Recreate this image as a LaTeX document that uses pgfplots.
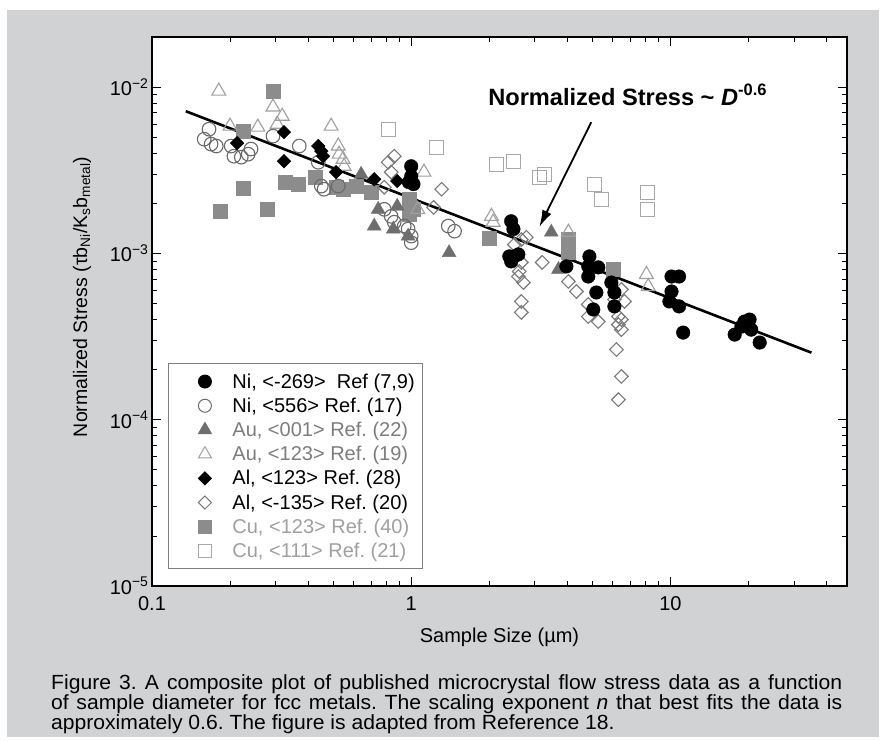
\documentclass[border=0pt]{standalone}
\usepackage{fontspec}
\setmainfont{Liberation Sans}
\newfontfamily\annfont{Liberation Sans}
\newfontfamily\capfont[FakeStretch=1.03]{Liberation Sans}
\usepackage{pgfplots}
\pgfplotsset{compat=1.18}
\usetikzlibrary{arrows.meta}
\definecolor{panel}{HTML}{D1D2D4}
\definecolor{cufill}{HTML}{8C8C8C}
\definecolor{aufill}{HTML}{6E6E6E}
\definecolor{nicirc}{HTML}{6A6A6A}
\definecolor{autri}{HTML}{A0A0A0}
\definecolor{aldia}{HTML}{7A7A7A}
\definecolor{cusq}{HTML}{A8A8A8}
\definecolor{autext}{HTML}{7D7D7D}
\definecolor{cutext}{HTML}{A0A0A0}
\frenchspacing
\begin{document}
\begin{tikzpicture}[x=1pt,y=1pt]
\fill[white] (0,0) rectangle (885,740);
\fill[panel] (7,3) rectangle (879,730);
\begin{axis}[
  at={(152pt,154pt)}, anchor=south west,
  scale only axis, width=695pt, height=549pt,
  xmode=log, ymode=log,
  xmin=0.1, xmax=48, ymin=1e-5, ymax=0.02,
  axis background/.style={fill=white},
  axis line style={line width=2.2pt},
  every tick/.style={black, line width=0.9pt},
  major tick length=9pt, minor tick length=5pt,
  tick align=inside,
  xtick={0.1,1,10}, xticklabels={0.1,1,10},
  ytick={1e-5,1e-4,1e-3,1e-2},
  yticklabels={10\textsuperscript{−5},10\textsuperscript{−4},10\textsuperscript{−3},10\textsuperscript{−2}},
  minor xtick={0.2,0.3,0.4,0.5,0.6,0.7,0.8,0.9,2,3,4,5,6,7,8,9,20,30,40},
  minor ytick={2e-5,3e-5,4e-5,5e-5,6e-5,7e-5,8e-5,9e-5,2e-4,3e-4,4e-4,5e-4,6e-4,7e-4,8e-4,9e-4,2e-3,3e-3,4e-3,5e-3,6e-3,7e-3,8e-3,9e-3},
  tick label style={font=\fontsize{20}{22}\selectfont},
  xticklabel style={yshift=-7pt},
  legend cell align=left,
  legend image code/.code={\path (0pt,0pt) (55pt,0pt); \draw[#1] plot coordinates {(33pt,0pt)};},
  legend style={at={(0.023,0.406)}, anchor=north west, draw=gray, line width=0.9pt, fill=white,
    font=\fontsize{20}{22}\selectfont, row sep=6.2pt, inner xsep=3pt, inner ysep=9pt,
    nodes={inner ysep=1pt, inner xsep=5pt}},
]
\addlegendimage{only marks, mark=*, mark size=6.5pt, black}
\addlegendentry{Ni, <-269>\ \ Ref (7,9)}
\addlegendimage{only marks, mark=o, mark size=6.5pt, nicirc, line width=1pt}
\addlegendentry{Ni, <556> Ref. (17)}
\addlegendimage{only marks, mark=triangle*, mark size=7.5pt, aufill}
\addlegendentry{\textcolor{autext}{Au, <001> Ref. (22)}}
\addlegendimage{only marks, mark=triangle, mark size=7.5pt, autri, line width=1pt}
\addlegendentry{\textcolor{autext}{Au, <123> Ref. (19)}}
\addlegendimage{only marks, mark=square*, mark size=4.6pt, black, mark options={rotate=45}}
\addlegendentry{Al, <123> Ref. (28)}
\addlegendimage{only marks, mark=square, mark size=4.6pt, aldia, line width=1pt, mark options={rotate=45}}
\addlegendentry{Al, <-135> Ref. (20)}
\addlegendimage{only marks, mark=square*, mark size=6.5pt, cufill}
\addlegendentry{\textcolor{cutext}{Cu, <123> Ref. (40)}}
\addlegendimage{only marks, mark=square, mark size=6.5pt, cusq, line width=1pt}
\addlegendentry{\textcolor{cutext}{Cu, <111> Ref. (21)}}

% Cu <111> open squares
\addplot[forget plot, only marks, mark=square, mark size=7pt, cusq, line width=1.1pt] coordinates {
(0.815,5.58e-3) (1.25,4.35e-3) (2.13,3.44e-3) (2.48,3.58e-3) (3.12,2.87e-3) (3.26,2.99e-3)
(5.09,2.61e-3) (5.42,2.11e-3) (8.15,2.33e-3) (8.15,1.84e-3)};
% Cu <123> filled squares
\addplot[forget plot, only marks, mark=square*, mark size=7pt, cufill] coordinates {
(0.293,9.46e-3) (0.224,5.43e-3) (0.224,2.47e-3) (0.183,1.79e-3) (0.278,1.84e-3) (0.326,2.68e-3)
(0.367,2.61e-3) (0.426,2.87e-3) (0.513,2.50e-3) (0.546,2.43e-3) (0.613,2.54e-3) (0.701,2.33e-3)
(0.982,2.11e-3) (0.982,1.72e-3) (1.02,1.84e-3) (2.00,1.23e-3) (4.04,1.21e-3) (4.04,1.01e-3) (6.03,8.01e-4)};
% Au <123> open triangles
\addplot[forget plot, only marks, mark=triangle, mark size=8pt, autri, line width=1.1pt] coordinates {
(0.181,9.46e-3) (0.293,7.59e-3) (0.318,6.68e-3) (0.200,5.82e-3) (0.256,5.74e-3) (0.304,5.98e-3)
(0.491,5.82e-3) (0.523,4.42e-3) (0.527,3.95e-3) (0.546,3.68e-3) (0.551,3.34e-3) (1.12,3.08e-3)
(2.04,1.67e-3) (2.07,1.54e-3) (1.06,1.84e-3) (8.08,7.47e-4) (8.21,6.32e-4) (4.04,1.34e-3)};
% Al <-135> open diamonds
\addplot[forget plot, only marks, mark=square, mark size=4.8pt, aldia, line width=1.1pt, mark options={rotate=45}] coordinates {
(0.860,3.84e-3) (0.815,3.53e-3) (0.837,3.08e-3) (0.787,2.50e-3) (1.31,2.43e-3) (1.22,1.89e-3)
(2.78,1.25e-3) (2.66,1.21e-3) (2.50,1.13e-3) (3.20,8.83e-4) (2.66,8.83e-4) (2.61,7.79e-4)
(2.59,7.26e-4) (2.71,6.68e-4) (2.66,5.14e-4) (2.66,4.42e-4) (4.04,6.78e-4) (4.34,5.90e-4)
(4.82,4.93e-4) (4.82,4.17e-4) (5.27,3.89e-4) (6.08,5.28e-4) (6.47,6.07e-4) (6.65,5.14e-4)
(6.30,4.17e-4) (6.47,4.00e-4) (6.30,3.73e-4) (6.47,3.48e-4) (6.19,2.64e-4) (6.47,1.82e-4) (6.30,1.32e-4)};
% Ni <556> open circles
\addplot[forget plot, only marks, mark=o, mark size=6.8pt, nicirc, line width=1.1pt] coordinates {
(0.166,5.58e-3) (0.159,4.86e-3) (0.169,4.54e-3) (0.177,4.42e-3) (0.202,4.42e-3) (0.207,3.84e-3)
(0.221,3.79e-3) (0.235,3.95e-3) (0.241,4.24e-3) (0.293,5.07e-3) (0.370,4.42e-3) (0.438,3.53e-3)
(0.450,2.54e-3) (0.461,2.43e-3) (0.523,2.54e-3) (0.787,1.84e-3) (0.837,1.67e-3) (0.860,1.54e-3)
(0.940,1.46e-3) (0.973,1.40e-3) (1.00,1.27e-3) (1.00,1.16e-3) (1.39,1.46e-3) (1.47,1.36e-3)};
% Au <001> filled triangles
\addplot[forget plot, only marks, mark=triangle*, mark size=8pt, aufill] coordinates {
(0.641,2.99e-3) (0.746,1.84e-3) (0.720,1.46e-3) (0.853,1.40e-3) (0.883,1.92e-3) (0.973,1.27e-3)
(1.40,1.01e-3) (3.47,1.34e-3) (3.70,8.01e-4)};
% Al <123> filled diamonds
\addplot[forget plot, only marks, mark=square*, mark size=4.8pt, black, mark options={rotate=45}] coordinates {
(0.213,4.60e-3) (0.323,5.36e-3) (0.323,3.58e-3) (0.438,4.42e-3) (0.450,4.12e-3) (0.457,3.84e-3)
(0.513,3.08e-3) (0.883,2.72e-3) (0.720,2.79e-3)};
% Ni <-269> filled circles
\addplot[forget plot, only marks, mark=*, mark size=6.8pt, black] coordinates {
(1.00,3.34e-3) (1.00,2.91e-3) (1.02,2.61e-3) (0.98,2.68e-3) (2.43,1.56e-3) (2.48,1.40e-3)
(2.39,9.59e-4) (2.50,9.59e-4) (2.59,9.86e-4) (2.43,8.95e-4) (3.97,8.35e-4) (4.87,9.59e-4)
(4.82,8.35e-4) (4.82,7.26e-4) (5.27,8.24e-4) (5.18,5.82e-4) (5.04,4.60e-4) (5.92,6.68e-4)
(6.08,5.82e-4) (6.08,4.80e-4) (10.1,7.26e-4) (10.8,7.26e-4) (10.1,5.90e-4) (9.91,5.14e-4)
(10.8,4.80e-4) (11.2,3.34e-4) (17.7,3.25e-4) (19.3,3.89e-4) (20.2,4.00e-4) (18.8,3.63e-4)
(20.5,3.48e-4) (22.1,2.91e-4)};
% fit line
\addplot[forget plot, black, line width=2.6pt, no markers] coordinates {(0.135,7.16e-3) (35,2.53e-4)};
\draw[-{Latex[length=17pt,width=10pt]}, line width=1.8pt] (axis cs:4.95,6.15e-3) -- (axis cs:3.12,1.44e-3);
\node[anchor=base west, inner sep=0pt, font=\annfont\bfseries\fontsize{23.6}{26}\selectfont] at (axis cs:1.98,7.8e-3)
  {Normalized Stress \textasciitilde{} \textit{D}\textsuperscript{-0.6}};
\end{axis}
\node[font=\fontsize{20}{22}\selectfont] at (499.5,103) {Sample Size (µm)};
\node[rotate=90, font=\fontsize{19.5}{22}\selectfont] at (82,443) {Normalized Stress (τb\textsubscript{Ni}/K\textsubscript{s}b\textsubscript{metal})};
\node[anchor=base west, inner sep=0pt, font=\capfont\fontsize{20.5}{21}\selectfont] at (51,51) {\makebox[791pt][s]{Figure 3. A composite plot of published microcrystal flow stress data as a function}};
\node[anchor=base west, inner sep=0pt, font=\capfont\fontsize{20.5}{21}\selectfont] at (51,31) {\makebox[791pt][s]{of sample diameter for fcc metals. The scaling exponent \textit{n} that best fits the data is}};
\node[anchor=base west, inner sep=0pt, font=\capfont\fontsize{20.5}{21}\selectfont] at (51,11) {approximately 0.6. The figure is adapted from Reference 18.};
\end{tikzpicture}
\end{document}
